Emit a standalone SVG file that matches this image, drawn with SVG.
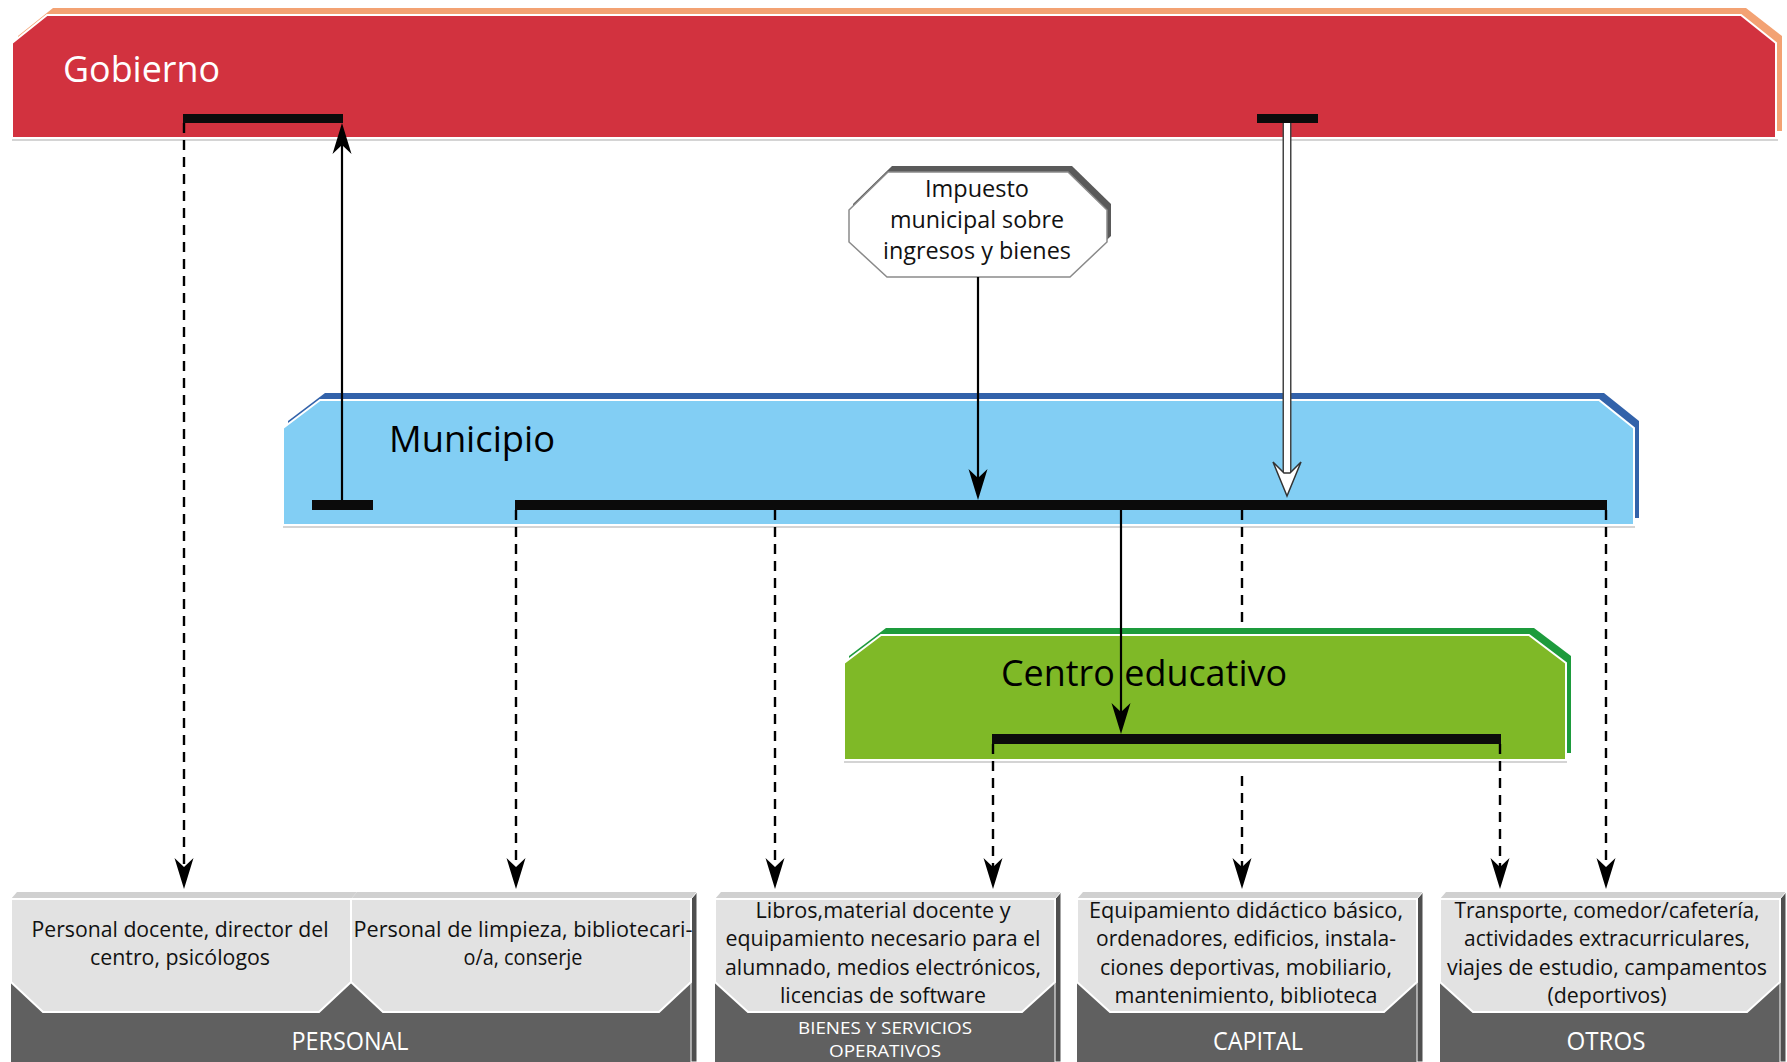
<svg xmlns="http://www.w3.org/2000/svg" width="1787" height="1062" viewBox="0 0 1787 1062">
<defs>
<style>
text{font-family:"Open Sans","Noto Sans","Liberation Sans",sans-serif}
.hdr{font-size:36px}
.body{font-size:21.5px;fill:#111;text-anchor:middle}
.lbl{font-size:25px;fill:#fff;text-anchor:middle}
.lbls{font-size:16.5px;fill:#fff;text-anchor:middle}
.tax{font-size:23.5px;fill:#111;text-anchor:middle}
.main{stroke:#fff;stroke-width:2}
.bar{fill:#0b0b0b}
.solid{stroke:#000;stroke-width:2.2;fill:none}
.dash{stroke:#000;stroke-width:2.4;fill:none;stroke-dasharray:10 7}
.pane{fill:#e2e2e2;stroke:#fff;stroke-width:2}
.dark{fill:#606060}
.lip{fill:#d0d0d0}
.side{fill:#4f4f4f;stroke:#fff;stroke-width:1}
.shadow{stroke:#d4d4d4;stroke-width:2}
</style>
<marker id="ah" markerUnits="userSpaceOnUse" markerWidth="44" markerHeight="26" viewBox="-34 -13 44 26" refX="-10" refY="0" orient="auto" overflow="visible">
<path d="M0,0 L-31,-9.5 L-22,0 L-31,9.5 Z" fill="#000"/>
</marker>
</defs>

<g id="gobierno">
<polygon points="18,36 53,8 1746,8 1782,36 1782,131 18,131" fill="#f3a273"/>
<line class="shadow" x1="12" y1="140" x2="1778" y2="140"/>
<polygon class="main" points="12,43 47,15 1741,15 1776,43 1776,138 12,138" fill="#d2323f"/>
<text class="hdr" x="63" y="82" fill="#fff" textLength="157" lengthAdjust="spacingAndGlyphs">Gobierno</text>
</g>

<g id="municipio">
<polygon points="288,421 325,393 1604,393 1639,421 1639,518 288,518" fill="#3262aa"/>
<line class="shadow" x1="283" y1="527" x2="1635" y2="527"/>
<polygon class="main" points="283,428 320,400 1599,400 1634,428 1634,525 283,525" fill="#82cef4"/>
<text class="hdr" x="389" y="452" fill="#000" textLength="166" lengthAdjust="spacingAndGlyphs">Municipio</text>
</g>

<g id="centro">
<polygon points="849,656 886,628 1534,628 1571,656 1571,753 849,753" fill="#1d9b3c"/>
<line class="shadow" x1="844" y1="762" x2="1567" y2="762"/>
<polygon class="main" points="844,663 881,635 1529,635 1566,663 1566,760 844,760" fill="#7fb927"/>
<text class="hdr" x="1001" y="686" fill="#000" textLength="286" lengthAdjust="spacingAndGlyphs">Centro educativo</text>
</g>

<g id="impuesto">
<polygon points="853,204 892,166 1072,166 1111,204 1111,236 1074,271 891,271 853,236" fill="#5a5a5a"/>
<polygon points="849,210 888,172 1068,172 1107,210 1107,242 1070,277 887,277 849,242" fill="#fff" stroke="#8a8a8a" stroke-width="1.5"/>
<text class="tax" x="977" y="197" textLength="104" lengthAdjust="spacingAndGlyphs">Impuesto</text>
<text class="tax" x="977" y="228" textLength="174" lengthAdjust="spacingAndGlyphs">municipal sobre</text>
<text class="tax" x="977" y="259" textLength="188" lengthAdjust="spacingAndGlyphs">ingresos y bienes</text>
</g>

<g id="personal">
<rect class="dark" x="11" y="899" width="680" height="163"/>
<polygon class="lip" points="11,899 17,892 357,892 351,899"/>
<polygon class="lip" points="351,899 357,892 697,892 691,899"/>
<polygon class="side" points="691,899 697,892 697,1062 691,1062"/>
<polygon class="pane" points="11,899 351,899 351,982 319,1012 43,1012 11,982"/>
<polygon class="pane" points="351,899 691,899 691,982 659,1012 383,1012 351,982"/>
<text class="body" x="180" y="937" textLength="297" lengthAdjust="spacingAndGlyphs">Personal docente, director del</text>
<text class="body" x="180" y="965" textLength="180" lengthAdjust="spacingAndGlyphs">centro, psicólogos</text>
<text class="body" x="523" y="937" textLength="339" lengthAdjust="spacingAndGlyphs">Personal de limpieza, bibliotecari-</text>
<text class="body" x="523" y="965" textLength="119" lengthAdjust="spacingAndGlyphs">o/a, conserje</text>
<text class="lbl" x="350" y="1050" textLength="117" lengthAdjust="spacingAndGlyphs">PERSONAL</text>
</g>

<g id="bienes">
<rect class="dark" x="715" y="899" width="340" height="163"/>
<polygon class="lip" points="715,899 721,892 1061,892 1055,899"/>
<polygon class="side" points="1055,899 1061,892 1061,1062 1055,1062"/>
<polygon class="pane" points="715,899 1055,899 1055,982 1022,1012 748,1012 715,982"/>
<text class="body" x="883" y="917.5" textLength="255" lengthAdjust="spacingAndGlyphs">Libros,material docente y</text>
<text class="body" x="883" y="946" textLength="315" lengthAdjust="spacingAndGlyphs">equipamiento necesario para el</text>
<text class="body" x="883" y="974.5" textLength="316" lengthAdjust="spacingAndGlyphs">alumnado, medios electrónicos,</text>
<text class="body" x="883" y="1003" textLength="206" lengthAdjust="spacingAndGlyphs">licencias de software</text>
<text class="lbls" x="885" y="1034" textLength="174" lengthAdjust="spacingAndGlyphs">BIENES Y SERVICIOS</text>
<text class="lbls" x="885" y="1057" textLength="112" lengthAdjust="spacingAndGlyphs">OPERATIVOS</text>
</g>

<g id="capital">
<rect class="dark" x="1077" y="899" width="340" height="163"/>
<polygon class="lip" points="1077,899 1083,892 1423,892 1417,899"/>
<polygon class="side" points="1417,899 1423,892 1423,1062 1417,1062"/>
<polygon class="pane" points="1077,899 1417,899 1417,982 1384,1012 1110,1012 1077,982"/>
<text class="body" x="1246" y="917.5" textLength="314" lengthAdjust="spacingAndGlyphs">Equipamiento didáctico básico,</text>
<text class="body" x="1246" y="946" textLength="300" lengthAdjust="spacingAndGlyphs">ordenadores, edificios, instala-</text>
<text class="body" x="1246" y="974.5" textLength="292" lengthAdjust="spacingAndGlyphs">ciones deportivas, mobiliario,</text>
<text class="body" x="1246" y="1003" textLength="263" lengthAdjust="spacingAndGlyphs">mantenimiento, biblioteca</text>
<text class="lbl" x="1258" y="1050" textLength="90" lengthAdjust="spacingAndGlyphs">CAPITAL</text>
</g>

<g id="otros">
<rect class="dark" x="1440" y="899" width="340" height="163"/>
<polygon class="lip" points="1440,899 1446,892 1786,892 1780,899"/>
<polygon class="side" points="1780,899 1786,892 1786,1062 1780,1062"/>
<polygon class="pane" points="1440,899 1780,899 1780,982 1747,1012 1473,1012 1440,982"/>
<text class="body" x="1607" y="917.5" textLength="305" lengthAdjust="spacingAndGlyphs">Transporte, comedor/cafetería,</text>
<text class="body" x="1607" y="946" textLength="286" lengthAdjust="spacingAndGlyphs">actividades extracurriculares,</text>
<text class="body" x="1607" y="974.5" textLength="320" lengthAdjust="spacingAndGlyphs">viajes de estudio, campamentos</text>
<text class="body" x="1607" y="1003" textLength="119" lengthAdjust="spacingAndGlyphs">(deportivos)</text>
<text class="lbl" x="1606" y="1050" textLength="79" lengthAdjust="spacingAndGlyphs">OTROS</text>
</g>

<g id="connectors">
<rect class="bar" x="183" y="114" width="160" height="9"/>
<rect class="bar" x="1257" y="114" width="61" height="9"/>
<rect class="bar" x="312" y="500" width="61" height="10"/>
<rect class="bar" x="515" y="500" width="1092" height="10"/>
<rect class="bar" x="992" y="734" width="509" height="10"/>
<line class="dash" x1="184" y1="123" x2="184" y2="879" marker-end="url(#ah)"/>
<line class="solid" x1="342" y1="500" x2="342" y2="133" marker-end="url(#ah)"/>
<line x1="1287" y1="123" x2="1287" y2="472" stroke="#444" stroke-width="9"/>
<line x1="1287" y1="123" x2="1287" y2="474" stroke="#fff" stroke-width="6"/>
<path d="M1287,496 L1273,462 L1284,473 L1290,473 L1301,462 Z" fill="#fff" stroke="#333" stroke-width="1.5" stroke-linejoin="miter"/>
<line class="solid" x1="978" y1="277" x2="978" y2="490" marker-end="url(#ah)"/>
<line class="solid" x1="1121" y1="510" x2="1121" y2="724" marker-end="url(#ah)"/>
<line class="dash" x1="516" y1="510" x2="516" y2="879" marker-end="url(#ah)"/>
<line class="dash" x1="775" y1="510" x2="775" y2="879" marker-end="url(#ah)"/>
<line class="dash" x1="1242" y1="510" x2="1242" y2="622"/>
<line class="dash" x1="1242" y1="776" x2="1242" y2="879" marker-end="url(#ah)"/>
<line class="dash" x1="1606" y1="510" x2="1606" y2="879" marker-end="url(#ah)"/>
<line class="dash" x1="993" y1="744" x2="993" y2="879" marker-end="url(#ah)"/>
<line class="dash" x1="1500" y1="744" x2="1500" y2="879" marker-end="url(#ah)"/>
</g>
</svg>
